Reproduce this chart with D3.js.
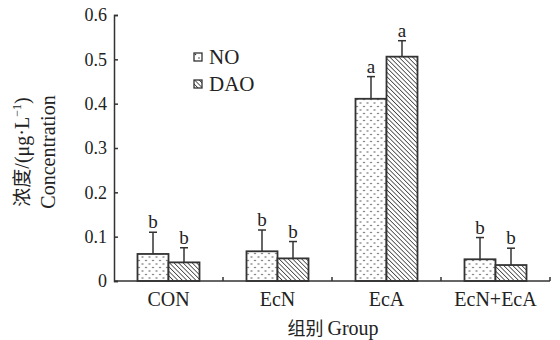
<!DOCTYPE html>
<html>
<head>
<meta charset="utf-8">
<script src="https://cdn.jsdelivr.net/npm/d3@7"></script>
<style>
  body { margin: 0; background: #fff; }
  svg text { font-family: "Liberation Serif", "Times New Roman", "DejaVu Serif", serif; fill: #222; }
  svg text .cjk { font-family: "Noto Sans CJK SC", sans-serif; }
</style>
</head>
<body>
<svg id="chart" width="560" height="340"></svg>
<script>
// group bar chart: NO and DAO concentration per group
const groups = ["CON", "EcN", "EcA", "EcN+EcA"];
const series = ["NO", "DAO"];
const noValues = [0.061, 0.067, 0.411, 0.049];
const noErrors = [0.049, 0.048, 0.050, 0.049];
const daoValues = [0.042, 0.051, 0.506, 0.036];
const daoErrors = [0.033, 0.038, 0.036, 0.038];
const noLetters = ["b", "b", "a", "b"];
const daoLetters = ["b", "b", "a", "b"];
const yTicks = [0, 0.1, 0.2, 0.3, 0.4, 0.5, 0.6];

const serif = "Liberation Serif, Times New Roman, DejaVu Serif, serif";
const svg = d3.select("#chart");
const margin = { left: 114, right: 10, top: 15, bottom: 59 };
const width = 560, height = 340;
const ink = "#333";

const x = d3.scaleBand().domain(groups).range([margin.left, width - margin.right]);
const xs = d3.scaleBand().domain(series).range([x.bandwidth() / 2 - 31, x.bandwidth() / 2 + 31]);
const y = d3.scaleLinear().domain([0, 0.6]).range([height - margin.bottom, margin.top]);

// fill patterns
const defs = svg.append("defs");
const dots = defs.append("pattern").attr("id", "dots")
  .attr("patternUnits", "userSpaceOnUse").attr("width", 7).attr("height", 7);
dots.append("rect").attr("width", 7).attr("height", 7).attr("fill", "#fff");
dots.append("circle").attr("cx", 1.5).attr("cy", 1.5).attr("r", 0.75).attr("fill", "#333");
dots.append("circle").attr("cx", 5).attr("cy", 5).attr("r", 0.75).attr("fill", "#333");

const hatch = defs.append("pattern").attr("id", "hatch")
  .attr("patternUnits", "userSpaceOnUse").attr("width", 3.2).attr("height", 3.2)
  .attr("patternTransform", "rotate(-45)");
hatch.append("rect").attr("width", 3.2).attr("height", 3.2).attr("fill", "#fff");
hatch.append("line").attr("x1", 0).attr("y1", 0).attr("x2", 0).attr("y2", 3.2)
  .attr("stroke", "#333").attr("stroke-width", 1.5);

const fills = { NO: "url(#dots)", DAO: "url(#hatch)" };

const rows = [];
groups.forEach((g, i) => {
  rows.push({ g, s: "NO", v: noValues[i], e: noErrors[i], l: noLetters[i] });
  rows.push({ g, s: "DAO", v: daoValues[i], e: daoErrors[i], l: daoLetters[i] });
});

const bars = svg.append("g").selectAll("g").data(rows).join("g")
  .attr("transform", d => `translate(${x(d.g) + xs(d.s)},0)`);

// error bars (upper only)
bars.append("line")
  .attr("x1", xs.bandwidth() / 2).attr("x2", xs.bandwidth() / 2)
  .attr("y1", d => y(d.v)).attr("y2", d => y(d.v + d.e))
  .attr("stroke", ink).attr("stroke-width", 1.5);
bars.append("line")
  .attr("x1", xs.bandwidth() / 2 - 4).attr("x2", xs.bandwidth() / 2 + 4)
  .attr("y1", d => y(d.v + d.e)).attr("y2", d => y(d.v + d.e))
  .attr("stroke", ink).attr("stroke-width", 1.5);

bars.append("rect")
  .attr("x", 0).attr("width", xs.bandwidth())
  .attr("y", d => y(d.v)).attr("height", d => y(0) - y(d.v))
  .attr("fill", d => fills[d.s]).attr("stroke", ink).attr("stroke-width", 1.8);

bars.append("text")
  .attr("x", xs.bandwidth() / 2).attr("y", d => y(d.v + d.e) - 4)
  .attr("text-anchor", "middle").attr("font-size", 19).attr("font-family", serif)
  .text(d => d.l);

// y axis
const yAxis = svg.append("g").attr("transform", `translate(${margin.left},0)`)
  .call(d3.axisLeft(y).tickValues(yTicks).tickSize(-4).tickPadding(7)
    .tickFormat(d => d === 0 ? "0" : d3.format(".1f")(d)));
yAxis.attr("font-family", serif);
yAxis.select(".domain").attr("stroke", ink).attr("stroke-width", 1.5);
yAxis.selectAll(".tick line").attr("stroke", ink).attr("stroke-width", 1.5);
yAxis.selectAll(".tick text").attr("font-size", 18).attr("fill", "#222");

// x axis: ticks at group boundaries
const xAxis = svg.append("g").attr("transform", `translate(0,${y(0)})`);
xAxis.append("line").attr("x1", margin.left).attr("x2", width - margin.right)
  .attr("stroke", ink).attr("stroke-width", 1.5);
xAxis.selectAll("line.bt").data(groups).join("line").attr("class", "bt")
  .attr("x1", d => x(d) + x.bandwidth()).attr("x2", d => x(d) + x.bandwidth())
  .attr("y1", 0).attr("y2", -4).attr("stroke", ink).attr("stroke-width", 1.5);
xAxis.selectAll("text").data(groups).join("text")
  .attr("x", d => x(d) + x.bandwidth() / 2).attr("y", 25)
  .attr("text-anchor", "middle").attr("font-size", 20).attr("font-family", serif)
  .text(d => d);

// axis titles
const xt = svg.append("text").attr("x", 333).attr("y", 335)
  .attr("text-anchor", "middle").attr("font-size", 20).attr("font-family", serif);
xt.append("tspan").attr("class", "cjk").attr("font-size", 18).text("组别 ");
xt.append("tspan").text("Group");

const yt = svg.append("text").attr("transform", "translate(29,152) rotate(-90)")
  .attr("text-anchor", "middle").attr("font-size", 20).attr("font-family", serif);
yt.append("tspan").attr("class", "cjk").attr("font-size", 19).text("浓度");
yt.append("tspan").text("/(μg·L");
yt.append("tspan").attr("font-size", 12).attr("dy", -8).text("−1");
yt.append("tspan").attr("dy", 8).text(")");
svg.append("text").attr("transform", "translate(55,152) rotate(-90)")
  .attr("text-anchor", "middle").attr("font-size", 20).attr("font-family", serif)
  .text("Concentration");

// legend
const legend = svg.append("g").attr("transform", "translate(194,53)");
const li = legend.selectAll("g").data(series).join("g")
  .attr("transform", (d, i) => `translate(0,${i * 27})`);
li.append("rect").attr("width", 8).attr("height", 8)
  .attr("fill", d => fills[d]).attr("stroke", ink).attr("stroke-width", 1.3);
li.append("text").attr("x", 15).attr("y", 11).attr("font-size", 21)
  .attr("font-family", serif).text(d => d);
</script>
</body>
</html>
